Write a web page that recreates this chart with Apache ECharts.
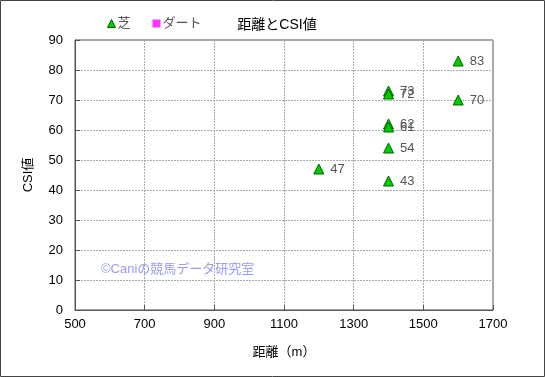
<!DOCTYPE html>
<html>
<head>
<meta charset="utf-8">
<script src="https://cdn.jsdelivr.net/npm/echarts@6/dist/echarts.min.js"></script>
<style>
  html, body { margin: 0; padding: 0; background: #fff; }
  #chart { width: 545px; height: 377px; }
</style>
</head>
<body>
<div id="chart"></div>
<script>
// 芝 series: [distance, CSI]
const turfDistance = [1200, 1400, 1400, 1400, 1400, 1400, 1400, 1600, 1600];
const turfCsi = [47, 73, 72, 62, 61, 54, 43, 83, 70];
const dirtDistance = [];
const dirtCsi = [];
const xTicks = [500, 700, 900, 1100, 1300, 1500, 1700];

const font = 'Liberation Sans, "Noto Sans CJK JP", sans-serif';

const chart = echarts.init(document.getElementById('chart'));
chart.setOption({
  animation: false,
  backgroundColor: '#fff',
  textStyle: { fontFamily: font },
  title: {
    text: '距離とCSI値',
    left: 272,
    top: 13,
    textAlign: 'center',
    textStyle: { fontSize: 14, fontWeight: 'normal', color: '#000', fontFamily: font }
  },
  legend: {
    left: 102,
    top: 12,
    itemGap: 22,
    itemWidth: 8,
    itemHeight: 8,
    textStyle: { fontSize: 13, color: '#555', padding: [0, 0, 0, -3] },
    data: [
      { name: '芝', icon: 'triangle', itemStyle: { color: '#00cc00', borderColor: '#006600', borderWidth: 1 } },
      { name: 'ダート', icon: 'rect', itemStyle: { color: '#ff00ff' } }
    ]
  },
  grid: {
    left: 75, right: 52, top: 40, bottom: 67,
    show: true,
    borderColor: '#555',
    borderWidth: 1
  },
  xAxis: {
    type: 'value',
    min: 500, max: 1700, interval: 200,
    name: '距離（m）',
    nameLocation: 'middle',
    nameGap: 36,
    nameTextStyle: { fontSize: 13, color: '#000' },
    axisLine: { lineStyle: { color: '#555' } },
    axisTick: { inside: true, length: 5, lineStyle: { color: '#555' } },
    axisLabel: {
      fontSize: 13, color: '#000', margin: 8,
      formatter: v => xTicks.includes(v) ? String(v) : ''
    },
    splitLine: { lineStyle: { color: '#aaa', type: [2, 1] } }
  },
  yAxis: {
    type: 'value',
    min: 0, max: 90, interval: 10,
    name: 'CSI値',
    nameLocation: 'middle',
    nameGap: 40,
    nameTextStyle: { fontSize: 13, color: '#000' },
    axisLine: { show: true, lineStyle: { color: '#555' } },
    axisTick: { show: true, inside: true, length: 5, lineStyle: { color: '#555' } },
    axisLabel: { fontSize: 13, color: '#000', margin: 12 },
    splitLine: { lineStyle: { color: '#aaa', type: [2, 1] } }
  },
  graphic: [
    {
      type: 'rect',
      shape: { x: 0.5, y: 0.5, width: 544, height: 376 },
      style: { fill: 'none', stroke: '#444', lineWidth: 1 },
      silent: true
    },
    {
      type: 'text',
      left: 101,
      top: 263,
      style: { text: '©Caniの競馬データ研究室', fill: '#9999ff', font: '13px ' + font },
      silent: true
    }
  ],
  series: [
    {
      name: '芝',
      type: 'scatter',
      symbol: 'triangle',
      symbolSize: 10,
      itemStyle: { color: '#00cc00', borderColor: '#006600', borderWidth: 1, opacity: 1 },
      label: {
        show: true,
        position: 'right',
        distance: 6,
        fontSize: 13,
        color: '#555',
        formatter: p => String(p.value[1])
      },
      data: turfDistance.map((d, i) => [d, turfCsi[i]])
    },
    {
      name: 'ダート',
      type: 'scatter',
      symbol: 'rect',
      itemStyle: { color: '#ff00ff' },
      data: dirtDistance.map((d, i) => [d, dirtCsi[i]])
    }
  ]
});
</script>
</body>
</html>
